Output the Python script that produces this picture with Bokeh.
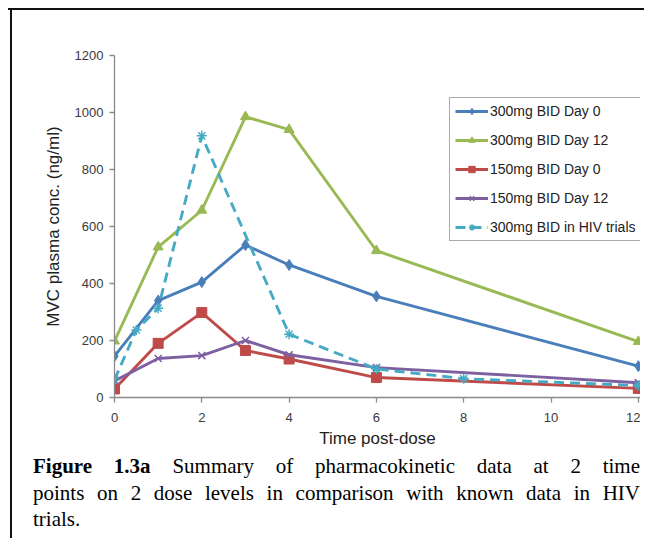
from bokeh.plotting import figure
from bokeh.models import FixedTicker, Legend, LegendItem, Div, Range1d
from bokeh.layouts import column, row
from bokeh.embed import file_html
from bokeh.resources import INLINE

# ---- data ----
t_main = [0, 1, 2, 3, 4, 6, 12]
d300_day0 = [145, 340, 405, 535, 465, 355, 110]
d300_day12 = [198, 528, 657, 985, 940, 515, 196]
d150_day0 = [30, 190, 298, 165, 135, 70, 32]
d150_day12 = [58, 137, 147, 200, 150, 105, 52]
t_hiv = [0, 0.5, 1, 2, 4, 6, 8, 12]
hiv300 = [62, 237, 313, 918, 222, 100, 66, 42]

x_ticks = [0, 2, 4, 6, 8, 10, 12]
y_ticks = [0, 200, 400, 600, 800, 1000, 1200]

series_names = ["300mg BID Day 0", "300mg BID Day 12", "150mg BID Day 0",
                "150mg BID Day 12", "300mg BID in HIV trials"]
x_title = "Time post-dose"
y_title = "MVC plasma conc. (ng/ml)"
caption_bold = "Figure 1.3a"
caption_line1 = "Summary of pharmacokinetic data at 2 time"
caption_line2 = "points on 2 dose levels in comparison with known data in HIV"
caption_line3 = "trials."

BLUE = "#4A7EBB"
GREEN = "#98B954"
RED = "#BE4B48"
PURPLE = "#7D60A0"
CYAN = "#46AAC5"

FONT = "Liberation Sans"

p = figure(width=628, height=440, output_backend="svg", toolbar_location=None,
           x_range=Range1d(0, 12.05), y_range=Range1d(0, 1200),
           min_border_left=102, min_border_right=0, min_border_top=45,
           min_border_bottom=53, margin=(0, 0, 0, 0))
p.outline_line_color = None
p.xgrid.visible = False
p.ygrid.visible = False
p.background_fill_color = "white"
p.border_fill_color = "white"

for ax, ticks in ((p.xaxis[0], x_ticks), (p.yaxis[0], y_ticks)):
    ax.ticker = FixedTicker(ticks=ticks)
    ax.minor_tick_line_color = None
    ax.major_tick_in = 0
    ax.major_tick_out = 5
    ax.axis_line_color = "#8a8a8a"
    ax.major_tick_line_color = "#8a8a8a"
    ax.axis_line_width = 1.3
    ax.major_tick_line_width = 1.3
    ax.major_label_text_font = FONT
    ax.major_label_text_font_size = "13px"
    ax.major_label_text_color = "#3a3a3a"
    ax.axis_label_text_font = FONT
    ax.axis_label_text_font_size = "17px"
    ax.axis_label_text_font_style = "normal"
    ax.axis_label_text_color = "#222222"

p.xaxis.axis_label = x_title
p.yaxis.axis_label = y_title
p.xaxis.major_label_standoff = 10
p.xaxis.axis_label_standoff = 4
p.yaxis.major_label_standoff = 6
p.yaxis.axis_label_standoff = 9

LW = 2.9
r1l = p.line(t_main, d300_day0, line_color=BLUE, line_width=LW)
r1m = p.scatter(t_main, d300_day0, marker="diamond", size=11, fill_color=BLUE, line_color=BLUE)
r2l = p.line(t_main, d300_day12, line_color=GREEN, line_width=LW)
r2m = p.scatter(t_main, d300_day12, marker="triangle", size=10, fill_color=GREEN, line_color=GREEN)
r3l = p.line(t_main, d150_day0, line_color=RED, line_width=LW)
r3m = p.scatter(t_main, d150_day0, marker="square", size=10, fill_color=RED, line_color=RED)
r4l = p.line(t_main, d150_day12, line_color=PURPLE, line_width=LW)
r4m = p.scatter(t_main, d150_day12, marker="x", size=10, line_color=PURPLE, line_width=1.5)
r5l = p.line(t_hiv, hiv300, line_color=CYAN, line_width=LW, line_dash="10 6")
r5m = p.scatter(t_hiv, hiv300, marker="asterisk", size=10, line_color=CYAN, line_width=1.5)

legend = Legend(items=[
    LegendItem(label=series_names[0], renderers=[r1l, r1m]),
    LegendItem(label=series_names[1], renderers=[r2l, r2m]),
    LegendItem(label=series_names[2], renderers=[r3l, r3m]),
    LegendItem(label=series_names[3], renderers=[r4l, r4m]),
    LegendItem(label=series_names[4], renderers=[r5l, r5m]),
], location=(335, 156))
legend.label_text_font = FONT
legend.label_text_font_size = "14px"
legend.label_text_color = "#222222"
legend.glyph_width = 33
legend.glyph_height = 16
legend.label_height = 16
legend.label_width = 175
legend.label_standoff = 2
legend.spacing = 13
legend.padding = 5
legend.margin = 0
legend.border_line_color = "#555555"
legend.border_line_width = 1
legend.background_fill_color = "white"
legend.background_fill_alpha = 1
p.add_layout(legend, "center")

just = "text-align:justify;text-align-last:justify;"
html = (
    "<div style=\"font-family:'Liberation Serif','Times New Roman',serif;"
    "font-size:21px;line-height:26.5px;color:#000;margin-left:21px;"
    "width:607px;padding-top:3px;\">"
    f"<div style='{just}'><b>{caption_bold}</b> {caption_line1}</div>"
    f"<div style='{just}'>{caption_line2}</div>"
    f"<div>{caption_line3}</div>"
    "</div>"
)
cap = Div(text=html, width=628, height=88, margin=(0, 0, 0, 0))

top_line = Div(text="", width=636, height=2, margin=(0, 0, 0, 0),
               styles={"background-color": "#111111"})
left_line = Div(text="<div style='width:2px;height:528px;background:#111;'></div>",
                width=2, height=528, margin=(0, 0, 0, 2))

layout = column(top_line, row(left_line, column(p, cap, margin=(0, 0, 0, 0)), margin=(0, 0, 0, 0)),
                margin=(8, 0, 0, 8))

open("out.html", "w").write(file_html(layout, INLINE))
